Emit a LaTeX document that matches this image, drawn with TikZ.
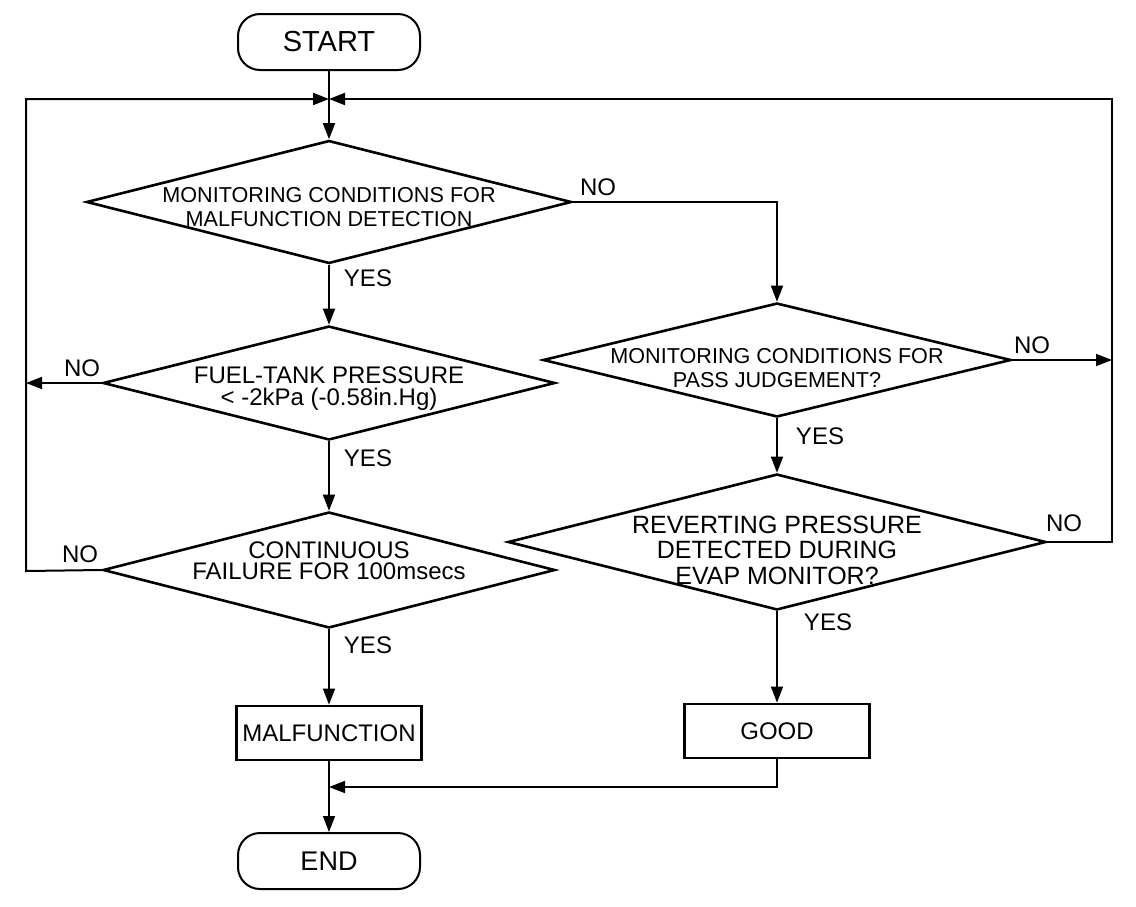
\documentclass[tikz,border=0pt]{standalone}
\usepackage{fontspec}
\setmainfont{Liberation Sans}
\usetikzlibrary{arrows.meta}
\usetikzlibrary{shapes.geometric}

\tikzset{
  decision/.style={diamond, draw, line width=1.3pt, inner sep=0pt},
  dtext/.style={align=center, font=\fontsize{12}{11}\selectfont},
  dsmall/.style={align=center, font=\fontsize{10.8}{11.6}\selectfont},
  terminal/.style={draw, line width=1pt, rounded corners=11pt, minimum width=91pt, minimum height=28pt, inner sep=0pt},
  action/.style={draw, line width=1.4pt, minimum width=92.5pt, minimum height=27pt, inner sep=0pt, font=\fontsize{12}{14}\selectfont},
  conn/.style={line width=0.8pt},
  loopline/.style={line width=1pt},
  arr/.style={conn, -{Triangle[length=8pt,width=6pt]}},
  answer/.style={font=\fontsize{12}{14}\selectfont, inner sep=0pt},
}

\begin{document}
\begin{tikzpicture}[x=0.5pt, y=-0.5pt]
            \useasboundingbox (0,0) rectangle (1136,906);

            % Debut et fin
            \node[terminal, font=\fontsize{14.5}{16}\selectfont] (start) at (329,42) {START};
            \node[terminal, font=\fontsize{13.5}{15}\selectfont] (end) at (329,861) {END};

            % Decisions
            \node[decision, minimum width=242.5pt, minimum height=61.5pt,
                  label={[dsmall, yshift=-2.5pt]center:{MONITORING CONDITIONS FOR\\MALFUNCTION DETECTION}}] (mondet) at (329,202) {};
            \node[decision, minimum width=226pt, minimum height=57pt,
                  label={[dtext, yshift=-2.75pt]center:{FUEL-TANK PRESSURE\\< -2kPa (-0.58in.Hg)}}] (press) at (329,383) {};
            \node[decision, minimum width=226pt, minimum height=58pt,
                  label={[dtext, font=\fontsize{12}{10.5}\selectfont, yshift=4.75pt]center:{CONTINUOUS\\FAILURE FOR 100msecs}}] (contfail) at (329,570) {};
            \node[decision, minimum width=234pt, minimum height=57pt,
                  label={[dsmall, font=\fontsize{10.8}{12.2}\selectfont, yshift=-4pt]center:{MONITORING CONDITIONS FOR\\PASS JUDGEMENT?}}] (monpass) at (777,360) {};
            \node[decision, minimum width=269pt, minimum height=68pt,
                  label={[dtext, font=\fontsize{12.5}{12.75}\selectfont, yshift=-4pt]center:{REVERTING PRESSURE\\DETECTED DURING\\EVAP MONITOR?}}] (revert) at (777,542) {};

            % Resultats
            \node[action] (malf) at (329,733) {MALFUNCTION};
            \node[action] (good) at (777,731) {GOOD};

            % Points de jonction
            \coordinate (top) at (329,99);
            \coordinate (leftno) at (26,383);
            \coordinate (leftbot) at (26,571);
            \coordinate (rightno) at (1112,360);
            \coordinate (rightbot) at (1112,542);
            \coordinate (merge) at (329,787);

            % Fleches principales
            \draw[conn] (start.south) -- (top);
            \draw[arr] (top) -- (mondet.north);
            \draw[arr] (mondet.south) -- (press.north);
            \draw[arr] (press.south) -- (contfail.north);
            \draw[arr] (contfail.south) -- (malf.north);
            \draw[arr] (mondet.east) -| (monpass.north);
            \draw[arr] (monpass.south) -- (revert.north);
            \draw[arr] (revert.south) -- (good.north);
            \draw[arr] (malf.south) -- (end.north);
            \draw[arr] (good.south) |- (merge);

            % Boucles de retour
            \draw[loopline, -{Triangle[length=8pt,width=6pt]}] (contfail.west) -- (leftbot) |- (top);
            \draw[loopline, -{Triangle[length=8pt,width=6pt]}] (revert.east) -- (rightbot) |- (top);
            \draw[arr] (press.west) -- (leftno);
            \draw[arr] (monpass.east) -- (rightno);

            % Reponses
            \node[answer] (no1) at (598,187) {NO};
            \node[answer] (yes1) at (368,278) {YES};
            \node[answer] (no2) at (82,368) {NO};
            \node[answer] (yes2) at (368,458) {YES};
            \node[answer] (no3) at (80,554) {NO};
            \node[answer] (yes3) at (368,645) {YES};
            \node[answer] (no4) at (1032,345) {NO};
            \node[answer] (yes4) at (820,436) {YES};
            \node[answer] (no5) at (1064,523) {NO};
            \node[answer] (yes5) at (828,622) {YES};
        \end{tikzpicture}
\end{document}
